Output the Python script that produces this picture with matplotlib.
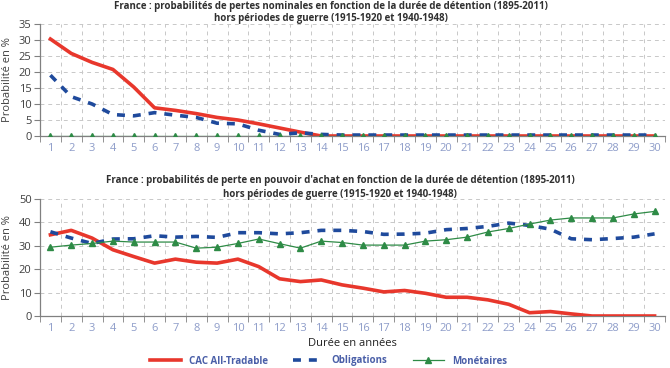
import numpy as np
import matplotlib.pyplot as plt
from matplotlib.lines import Line2D

years = list(range(1, 31))

# pertes nominales (%)
nom_cac = [30.3, 25.8, 23.0, 20.8, 15.3, 8.8, 8.0, 7.0, 5.8, 5.0, 3.8, 2.5, 1.2, 0.0, 0.0,
           0.0, 0.0, 0.0, 0.0, 0.0, 0.0, 0.0, 0.0, 0.0, 0.0, 0.0, 0.0, 0.0, 0.0, 0.0]
nom_oblig = [19.0, 12.3, 10.0, 6.7, 6.3, 7.3, 6.5, 5.8, 4.0, 3.8, 1.8, 0.5, 1.0, 0.5, 0.3,
             0.3, 0.3, 0.3, 0.3, 0.3, 0.3, 0.3, 0.3, 0.3, 0.3, 0.3, 0.3, 0.3, 0.3, 0.3]
nom_mone = [0.0] * 30

# pertes en pouvoir d'achat (%)
pa_cac = [34.7, 36.6, 33.3, 28.3, 25.4, 22.6, 24.3, 23.0, 22.6, 24.3, 21.1, 15.9, 14.7, 15.4, 13.3,
          11.9, 10.3, 10.9, 9.7, 8.0, 8.0, 6.9, 5.0, 1.4, 1.9, 0.9, 0.0, 0.0, 0.0, 0.0]
pa_oblig = [36.0, 33.3, 31.0, 32.9, 33.0, 34.3, 33.7, 34.0, 33.6, 35.6, 35.6, 35.1, 35.6, 36.6, 36.6,
            36.1, 34.9, 35.0, 35.4, 36.9, 37.4, 38.3, 39.7, 38.7, 37.1, 33.0, 32.6, 33.1, 33.7, 35.1]
pa_mone = [29.4, 30.3, 31.0, 32.0, 31.6, 31.6, 31.6, 29.0, 29.4, 31.0, 32.9, 30.9, 29.0, 32.0, 31.4,
           30.3, 30.3, 30.3, 32.0, 32.6, 33.7, 35.9, 37.4, 39.3, 41.0, 41.9, 41.9, 41.9, 43.6, 44.7]

titles = [
    ("France : probabilités de pertes nominales en fonction de la durée de détention (1895-2011)",
     "hors périodes de guerre (1915-1920 et 1940-1948)"),
    ("France : probabilités de perte en pouvoir d'achat en fonction de la durée de détention (1895-2011)",
     "hors périodes de guerre (1915-1920 et 1940-1948)"),
]
labels = ["CAC All-Tradable", "Obligations", "Monétaires"]

RED = "#e8372c"
BLUE = "#1f4a9c"
GREEN = "#2e8b46"
TICKBLUE = "#8d9cc9"

plt.rcParams['font.family'] = ['Open Sans', 'DejaVu Sans']

fig = plt.figure(figsize=(6.7, 3.68), dpi=100)
ax1 = fig.add_axes([40 / 670, 1 - 136 / 368, 625 / 670, 112 / 368])
ax2 = fig.add_axes([40 / 670, 1 - 316 / 368, 625 / 670, 117 / 368])


def draw(ax, cac, oblig, mone, ymax, ystep, title, ytitle, xtitle):
    ax.plot(years, cac, color=RED, lw=2.6, zorder=3)
    ax.plot(years, oblig, color=BLUE, lw=2.6, ls=(0, (2.2, 2.2)), zorder=4)
    ax.plot(years, mone, color=GREEN, lw=0.9, marker='^', ms=5, zorder=5)
    ax.set_xlim(0.5, 30.5)
    ax.set_ylim(0, ymax)
    ax.set_yticks(np.arange(0, ymax + 1, ystep))
    ax.set_xticks(years)
    ax.set_xticks(np.arange(0.5, 31, 1), minor=True)
    ax.grid(False)
    for b in np.arange(1.5, 31, 1):
        ax.axvline(b, color='#c8c8c8', lw=0.7, ls=(0, (4, 4)), zorder=1)
    for v in np.arange(ystep, ymax + 1, ystep):
        ax.axhline(v, color='#c8c8c8', lw=0.7, ls=(0, (4, 4)), zorder=1)
    for s in ['top', 'right']:
        ax.spines[s].set_visible(False)
    for s in ['left', 'bottom']:
        ax.spines[s].set_color('#808080')
        ax.spines[s].set_linewidth(0.9)
    ax.tick_params(axis='x', which='major', length=0, colors=TICKBLUE, labelsize=8, pad=5)
    ax.tick_params(axis='x', which='minor', length=4, color='#808080')
    ax.tick_params(axis='y', length=4, color='#808080', labelsize=8, labelcolor='#404040', pad=2)
    ax.set_ylabel("Probabilité en %", fontsize=8, color='#404040', labelpad=4)
    fig.text(xtitle / 670, 1 - ytitle / 368, title[0], ha='center', va='center', fontsize=7.0,
             fontweight='bold', color='#303030')
    fig.text(xtitle / 670, 1 - (ytitle + 13) / 368, title[1], ha='center', va='center', fontsize=7.0,
             fontweight='bold', color='#303030')


draw(ax1, nom_cac, nom_oblig, nom_mone, 35, 5, titles[0], 6, 331)
draw(ax2, pa_cac, pa_oblig, pa_mone, 50, 10, titles[1], 181, 340)
ax2.set_xlabel("Durée en années", fontsize=8, color='#202020', labelpad=3)

handles = [
    Line2D([], [], color=RED, lw=2.6),
    Line2D([], [], color=BLUE, lw=2.6, ls=(0, (2.2, 2.2))),
    Line2D([], [], color=GREEN, lw=0.9, marker='^', ms=5),
]
leg = fig.legend(handles, labels, loc='center', bbox_to_anchor=(0.49, 1 - 361 / 368), ncol=3,
                 frameon=False, fontsize=7, handlelength=3.2, columnspacing=2.6)
for t in leg.get_texts():
    t.set_color('#4a5fa8')
    t.set_fontweight('bold')

fig.savefig("out.png", dpi=100)
